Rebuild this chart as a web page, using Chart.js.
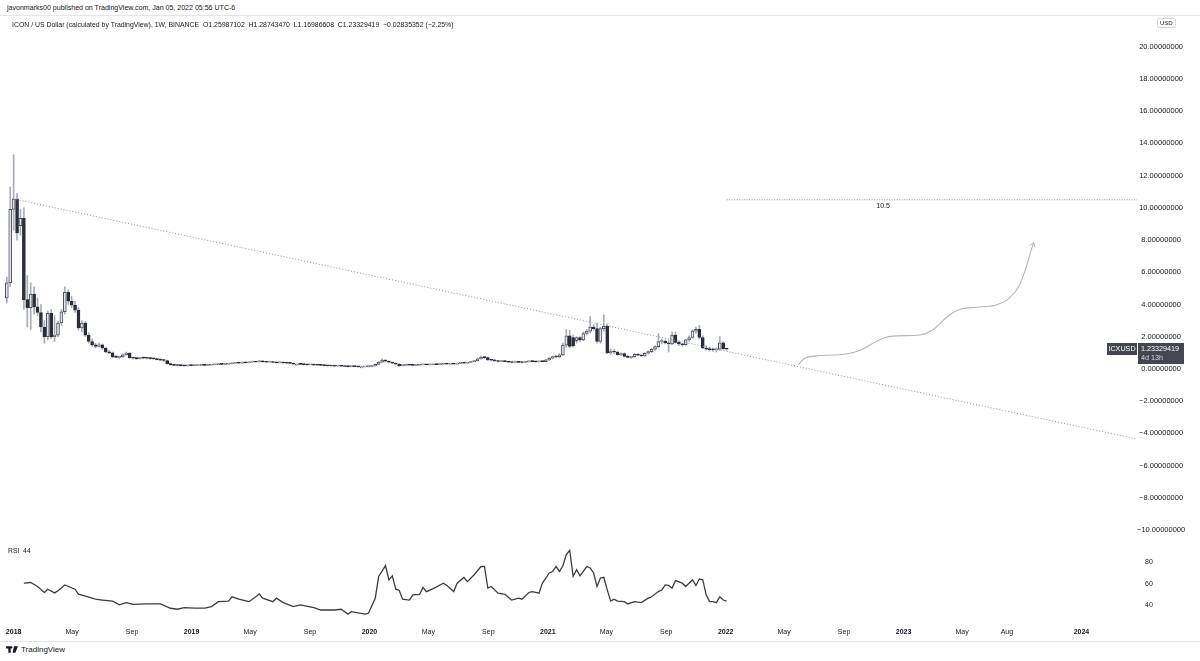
<!DOCTYPE html>
<html>
<head>
<meta charset="utf-8">
<script src="https://cdn.jsdelivr.net/npm/chart.js@4.4.1/dist/chart.umd.min.js"></script>
<style>
  html, body { margin: 0; padding: 0; background: #fff; }
  body { width: 1200px; height: 661px; position: relative; overflow: hidden; font-family: "Liberation Sans", Arial, sans-serif; color: #131722; }
  .pane { position: absolute; left: 0; top: 15px; width: 1200px; height: 627px; box-sizing: border-box; border-top: 1px solid #e3e5ea; border-bottom: 1px solid #e3e5ea; }
  #wrap { position: absolute; left: 0; top: 15px; width: 1200px; height: 626px; }
  .t1 { position: absolute; left: 7px; top: 4px; font-size: 7.05px; white-space: pre; }
  .t2 { position: absolute; left: 12px; top: 21px; font-size: 6.9px; white-space: pre; }
  .usd { position: absolute; left: 1157px; top: 18px; font-size: 6px; padding: 1px 2px; border: 1px solid #d6d8de; border-radius: 2px; }
  .foot { position: absolute; left: 6px; top: 645px; font-size: 8px; color: #131722; display: flex; align-items: center; }
  .foot svg { margin-right: 3px; }
</style>
</head>
<body>
<div class="pane"></div>
<div id="wrap"><canvas id="chart"></canvas></div>
<div class="t1">javonmarks00 published on TradingView.com, Jan 05, 2022 05:56 UTC-6</div>
<div class="t2">ICON / US Dollar (calculated by TradingView), 1W, BINANCE  O1.25987102  H1.28743470  L1.16986608  C1.23329419  −0.02835352 (−2.25%)</div>
<div class="usd">USD</div>
<div class="foot"><svg width="12" height="7" viewBox="0 0 36 20"><path d="M0 0h14v20H7V7H0z M16 0a3.5 3.5 0 1 1 0 7a3.5 3.5 0 1 1 0-7z M24 0h12l-8 20h-8z" fill="#131722"/></svg>TradingView</div>
<script>
// weekly candles, first bar week of 2017-12-18
const firstWeek = '2017-12-18';

const opens = [
  4.4, 5.35, 9.9, 10.55, 8.9, 9.35, 4.3, 3.8, 4.65, 3.85,
  3.5, 2.6, 2.0, 3.45, 2.0, 2.1, 2.85, 3.55, 4.75, 4.2,
  3.95, 3.65, 2.55, 2.85, 2.1, 1.7, 1.5, 1.4, 1.5, 1.3,
  1.05, 1.0, 0.75, 0.72, 0.74, 0.88, 0.98, 0.7, 0.66, 0.64,
  0.68, 0.67, 0.66, 0.64, 0.62, 0.58, 0.55, 0.52, 0.33, 0.25,
  0.22, 0.21, 0.2, 0.19, 0.22, 0.2, 0.21, 0.22, 0.23, 0.22,
  0.24, 0.26, 0.27, 0.29, 0.28, 0.3, 0.32, 0.35, 0.38, 0.36,
  0.4, 0.38, 0.42, 0.45, 0.43, 0.5, 0.44, 0.42, 0.45, 0.4,
  0.38, 0.42, 0.37, 0.35, 0.34, 0.3, 0.3, 0.28, 0.27, 0.25,
  0.26, 0.24, 0.23, 0.22, 0.2, 0.19, 0.18, 0.17, 0.18, 0.17,
  0.15, 0.14, 0.15, 0.14, 0.13, 0.13, 0.14, 0.15, 0.18, 0.28,
  0.42, 0.55, 0.48, 0.42, 0.35, 0.3, 0.2, 0.22, 0.25, 0.24,
  0.22, 0.23, 0.25, 0.27, 0.25, 0.26, 0.28, 0.27, 0.29, 0.31,
  0.3, 0.32, 0.3, 0.34, 0.38, 0.36, 0.4, 0.45, 0.5, 0.62,
  0.72, 0.7, 0.56, 0.55, 0.5, 0.46, 0.48, 0.45, 0.42, 0.4,
  0.42, 0.41, 0.4, 0.44, 0.47, 0.45, 0.44, 0.46, 0.45, 0.56,
  0.66, 0.76, 0.74, 0.87, 1.48, 2.05, 1.95, 1.76, 1.95, 1.8,
  2.2, 2.35, 2.6, 2.5, 1.7, 2.5, 2.65, 1.0, 1.07, 1.05,
  0.88, 0.95, 0.78, 0.72, 0.75, 0.91, 0.86, 0.8, 0.97, 1.07,
  1.22, 1.38, 1.7, 1.72, 1.62, 1.55, 2.1, 1.65, 1.55, 1.5,
  1.8, 1.95, 2.35, 2.45, 1.95, 1.3, 1.22, 1.2, 1.18, 1.22,
  1.62, 1.25987102
];
const highs = [
  5.7, 11.3, 13.3, 10.9, 9.9, 10.0, 5.8, 5.35, 5.1, 4.4,
  4.0, 3.0, 3.6, 3.7, 3.3, 2.95, 3.7, 5.1, 4.9, 4.5,
  4.2, 3.8, 3.0, 2.95, 2.25, 1.85, 1.6, 1.6, 1.55, 1.35,
  1.15, 1.05, 0.85, 0.8, 0.95, 1.05, 1.0, 0.74, 0.7, 0.72,
  0.74, 0.71, 0.7, 0.68, 0.65, 0.62, 0.58, 0.55, 0.36, 0.28,
  0.25, 0.24, 0.23, 0.25, 0.24, 0.23, 0.24, 0.25, 0.25, 0.26,
  0.28, 0.3, 0.31, 0.31, 0.32, 0.35, 0.38, 0.41, 0.4, 0.43,
  0.42, 0.45, 0.48, 0.47, 0.53, 0.51, 0.46, 0.48, 0.47, 0.42,
  0.45, 0.44, 0.39, 0.37, 0.35, 0.32, 0.31, 0.3, 0.29, 0.28,
  0.27, 0.26, 0.25, 0.24, 0.22, 0.21, 0.2, 0.2, 0.19, 0.18,
  0.17, 0.16, 0.16, 0.15, 0.15, 0.16, 0.17, 0.2, 0.31, 0.47,
  0.62, 0.58, 0.5, 0.44, 0.37, 0.32, 0.24, 0.27, 0.27, 0.26,
  0.25, 0.27, 0.29, 0.29, 0.28, 0.3, 0.3, 0.31, 0.33, 0.34,
  0.34, 0.34, 0.36, 0.4, 0.4, 0.42, 0.48, 0.53, 0.68, 0.82,
  0.78, 0.73, 0.6, 0.57, 0.52, 0.5, 0.5, 0.47, 0.44, 0.44,
  0.44, 0.43, 0.46, 0.5, 0.49, 0.47, 0.48, 0.48, 0.6, 0.72,
  0.8, 0.85, 0.95, 1.6, 2.45, 2.4, 2.1, 2.0, 2.0, 2.3,
  2.45, 3.25, 2.75, 2.85, 2.6, 3.35, 2.8, 1.25, 1.2, 1.1,
  1.0, 1.0, 0.85, 0.8, 0.95, 0.95, 0.9, 1.0, 1.12, 1.28,
  1.45, 2.2, 1.85, 1.8, 1.75, 2.3, 2.3, 1.75, 1.6, 1.85,
  2.05, 2.45, 2.6, 2.7, 2.05, 1.45, 1.35, 1.3, 1.3, 2.0,
  1.7, 1.2874347
];
const lows = [
  4.1, 5.1, 8.6, 8.0, 8.3, 3.7, 2.6, 2.45, 3.4, 3.3,
  2.3, 1.6, 1.8, 1.9, 1.7, 2.0, 2.7, 3.4, 4.0, 3.8,
  3.5, 2.4, 2.3, 2.0, 1.6, 1.4, 1.3, 1.35, 1.2, 1.0,
  0.95, 0.7, 0.68, 0.65, 0.7, 0.85, 0.65, 0.6, 0.58, 0.6,
  0.63, 0.62, 0.6, 0.59, 0.56, 0.5, 0.48, 0.3, 0.22, 0.2,
  0.19, 0.18, 0.17, 0.18, 0.18, 0.19, 0.2, 0.21, 0.2, 0.21,
  0.23, 0.25, 0.26, 0.26, 0.27, 0.29, 0.31, 0.34, 0.34, 0.35,
  0.36, 0.37, 0.41, 0.41, 0.42, 0.42, 0.4, 0.41, 0.38, 0.36,
  0.37, 0.35, 0.33, 0.32, 0.28, 0.28, 0.26, 0.25, 0.24, 0.24,
  0.23, 0.22, 0.21, 0.19, 0.18, 0.17, 0.16, 0.16, 0.16, 0.14,
  0.13, 0.13, 0.13, 0.12, 0.12, 0.12, 0.13, 0.14, 0.17, 0.26,
  0.4, 0.45, 0.4, 0.33, 0.28, 0.16, 0.19, 0.21, 0.22, 0.21,
  0.21, 0.22, 0.24, 0.24, 0.24, 0.25, 0.26, 0.26, 0.28, 0.28,
  0.29, 0.29, 0.29, 0.33, 0.34, 0.35, 0.39, 0.44, 0.49, 0.6,
  0.64, 0.53, 0.5, 0.48, 0.44, 0.45, 0.43, 0.4, 0.38, 0.39,
  0.39, 0.38, 0.39, 0.43, 0.43, 0.42, 0.43, 0.43, 0.44, 0.52,
  0.62, 0.68, 0.7, 0.82, 1.35, 1.3, 1.35, 1.6, 1.7, 1.75,
  2.1, 2.25, 2.4, 1.6, 1.6, 2.35, 0.95, 0.9, 0.95, 0.85,
  0.82, 0.75, 0.68, 0.65, 0.72, 0.82, 0.76, 0.78, 0.93, 1.02,
  1.15, 1.3, 1.55, 1.55, 1.05, 1.5, 1.6, 1.45, 1.4, 1.45,
  1.7, 1.9, 2.2, 1.85, 1.25, 1.15, 1.1, 1.08, 1.05, 1.15,
  1.2, 1.16986608
];
const closes = [
  5.35, 9.9, 10.55, 8.45, 9.35, 4.3, 3.8, 4.65, 3.85, 3.5,
  2.6, 2.0, 3.45, 2.0, 2.1, 2.85, 3.55, 4.75, 4.2, 3.95,
  3.65, 2.55, 2.85, 2.1, 1.7, 1.5, 1.4, 1.5, 1.3, 1.05,
  1.0, 0.75, 0.72, 0.74, 0.88, 0.98, 0.7, 0.66, 0.64, 0.68,
  0.67, 0.66, 0.64, 0.62, 0.58, 0.55, 0.52, 0.33, 0.25, 0.22,
  0.21, 0.2, 0.19, 0.22, 0.2, 0.21, 0.22, 0.23, 0.22, 0.24,
  0.26, 0.27, 0.29, 0.28, 0.3, 0.32, 0.35, 0.38, 0.36, 0.4,
  0.38, 0.42, 0.45, 0.43, 0.5, 0.44, 0.42, 0.45, 0.4, 0.38,
  0.42, 0.37, 0.35, 0.34, 0.3, 0.3, 0.28, 0.27, 0.25, 0.26,
  0.24, 0.23, 0.22, 0.2, 0.19, 0.18, 0.17, 0.18, 0.17, 0.15,
  0.14, 0.15, 0.14, 0.13, 0.13, 0.14, 0.15, 0.18, 0.28, 0.42,
  0.55, 0.48, 0.42, 0.35, 0.3, 0.2, 0.22, 0.25, 0.24, 0.22,
  0.23, 0.25, 0.27, 0.25, 0.26, 0.28, 0.27, 0.29, 0.31, 0.3,
  0.32, 0.3, 0.34, 0.38, 0.36, 0.4, 0.45, 0.5, 0.62, 0.72,
  0.7, 0.56, 0.55, 0.5, 0.46, 0.48, 0.45, 0.42, 0.4, 0.42,
  0.41, 0.4, 0.44, 0.47, 0.45, 0.44, 0.46, 0.45, 0.56, 0.66,
  0.76, 0.74, 0.87, 1.48, 2.05, 1.4, 1.42, 1.95, 1.8, 2.2,
  2.35, 2.6, 2.5, 1.7, 2.5, 2.65, 1.0, 1.07, 1.05, 0.88,
  0.95, 0.78, 0.72, 0.75, 0.91, 0.86, 0.8, 0.97, 1.07, 1.22,
  1.38, 1.7, 1.72, 1.62, 1.55, 2.1, 1.65, 1.55, 1.5, 1.8,
  1.95, 2.35, 2.45, 1.95, 1.3, 1.22, 1.2, 1.18, 1.22, 1.62,
  1.26, 1.23329419
];

// RSI turning points: week index -> value
const rsiWeeks = [
  5, 7, 9, 11, 12, 14, 15, 17, 20, 21, 24, 26, 28, 31, 33, 35, 37, 41, 45, 48,
  50, 52, 55, 58, 60, 62, 65, 66, 68, 71, 73, 74, 75, 78, 79, 81, 84, 86, 90, 92,
  96, 98, 100, 101, 105, 106, 108, 109, 111, 112, 113, 114, 115, 116, 118, 119, 121, 122, 123, 125,
  128, 129, 131, 132, 134, 135, 137, 139, 140, 141, 142, 144, 146, 148, 150, 151, 153, 154, 156, 157,
  159, 160, 161, 162, 163, 164, 165, 166, 167, 168, 170, 171, 172, 173, 174, 175, 176, 177, 178, 179,
  181, 182, 184, 186, 188, 189, 191, 192, 193, 194, 195, 196, 198, 199, 201, 202, 203, 204, 205, 206,
  207, 208, 209, 210, 211
];
const rsiValues = [
  60.6, 61.2, 57.5, 52, 55, 51.6, 53.5, 59, 55, 50.4, 47.6, 45.8, 45, 44, 40.5, 42.6, 41, 41.5, 41.5, 37.4,
  36.5, 38, 37.5, 37.5, 39, 43.5, 44, 48, 45.8, 43.5, 48, 50.7, 46.7, 43.5, 46.7, 42.6, 39, 40.5, 38, 35.8,
  35.8, 36.5, 32, 34.2, 32, 32.8, 46.7, 66.8, 76.7, 63.7, 67.4, 55, 54, 45.8, 45, 49.8, 50.3, 56.6, 52.8, 55.5,
  60.6, 58.5, 52.8, 60.6, 65.8, 62, 68.4, 76, 76, 56, 57.5, 51.3, 50.3, 45, 46.7, 45.8, 52, 52.8, 51.3, 60.6,
  70, 71.4, 76, 71.4, 76.7, 87, 91, 66.8, 73, 67.4, 76, 74.6, 70, 57.5, 65.3, 66, 54.4, 44, 45.8, 44,
  43.5, 41.4, 43.5, 42.6, 46.7, 48, 52.8, 54.3, 59, 58.5, 56, 63, 60.6, 57.5, 63.7, 58.5, 64.4, 63.7, 49.8, 43.5,
  43.5, 42.6, 48, 45, 44
];

// drawings
const trendDates = ['2018-01-01', '2024-04-24'];
const trendPrices = [10.55, -4.35];
const levelDates = ['2022-01-03', '2024-04-24'];
const levelPrices = [10.5, 10.5];
const levelLabel = '10.5';
const levelLabelDate = '2022-11-20';
const pathDates = ['2022-05-30', '2022-06-12', '2022-07-06', '2022-09-05', '2022-10-03', '2022-11-20', '2022-12-17',
  '2023-02-03', '2023-03-02', '2023-04-05', '2023-04-29', '2023-05-30', '2023-07-10', '2023-08-06', '2023-08-27',
  '2023-09-10', '2023-09-20', '2023-09-25'];
const pathPrices = [0.25, 0.66, 0.81, 0.93, 1.14, 1.91, 2.05, 2.11, 2.42, 3.35, 3.72, 3.83, 3.97, 4.39, 5.21,
  6.35, 7.39, 7.84];

// axes
const xRange = ['2017-12-04', '2024-04-24'];
const xTickDates = ['2018-01-01', '2018-05-01', '2018-09-01', '2019-01-01', '2019-05-01', '2019-09-01',
  '2020-01-01', '2020-05-01', '2020-09-01', '2021-01-01', '2021-05-01', '2021-09-01', '2022-01-01',
  '2022-05-01', '2022-09-01', '2023-01-01', '2023-05-01', '2023-08-01', '2024-01-01'];
const xTickLabels = ['2018', 'May', 'Sep', '2019', 'May', 'Sep', '2020', 'May', 'Sep', '2021', 'May', 'Sep',
  '2022', 'May', 'Sep', '2023', 'May', 'Aug', '2024'];
const priceTicks = [-10, -8, -6, -4, -2, 0, 2, 4, 6, 8, 10, 12, 14, 16, 18, 20];
const priceRange = [-10.62, 21.97];
const rsiTicks = [40, 60, 80];
const rsiRange = [24.7, 100.5];
const symbol = 'ICXUSD';
const countdown = '4d 13h';
const rsiTitle = 'RSI  44';

const FONT = '"Liberation Sans", Arial, sans-serif';
const DAY = 86400000;
const t0 = Date.parse(firstWeek);
const weekTime = i => t0 + i * 7 * DAY;

const up = i => closes[i] >= opens[i];

const overlay = {
  id: 'overlay',
  afterDatasetsDraw(chart) {
    const { ctx } = chart;
    const { x, price, rsi } = chart.scales;
    ctx.save();

    // level label
    ctx.font = '7px ' + FONT;
    ctx.fillStyle = '#131722';
    ctx.textAlign = 'center';
    ctx.textBaseline = 'top';
    ctx.fillText(levelLabel, x.getPixelForValue(Date.parse(levelLabelDate)), price.getPixelForValue(levelPrices[0]) + 3);

    // arrow head on projection path
    const pts = chart.getDatasetMeta(5).data;
    const tip = pts[pts.length - 1], prev = pts[pts.length - 2];
    const ang = Math.atan2(tip.y - prev.y, tip.x - prev.x);
    ctx.strokeStyle = '#b2b5be';
    ctx.lineWidth = 1;
    ctx.beginPath();
    ctx.moveTo(tip.x - 5 * Math.cos(ang - 0.6), tip.y - 5 * Math.sin(ang - 0.6));
    ctx.lineTo(tip.x, tip.y);
    ctx.lineTo(tip.x - 5 * Math.cos(ang + 0.6), tip.y - 5 * Math.sin(ang + 0.6));
    ctx.stroke();

    // RSI pane title
    ctx.textAlign = 'left';
    ctx.font = '6.8px ' + FONT;
    ctx.fillText(rsiTitle, 8, rsi.top + 8);

    ctx.restore();
  },
  afterDraw(chart) {
    const { ctx, chartArea } = chart;
    const price = chart.scales.price;
    const last = closes.length - 1;
    const y = Math.round(price.getPixelForValue(closes[last]));
    const r = chartArea.right;
    ctx.save();
    ctx.fillStyle = '#434651';
    ctx.fillRect(r - 30, y - 6, 30, 12);
    ctx.fillRect(r + 1, y - 6, 46, 21);
    ctx.fillStyle = '#ffffff';
    ctx.font = '7.2px ' + FONT;
    ctx.textBaseline = 'middle';
    ctx.textAlign = 'center';
    ctx.fillText(symbol, r - 15, y);
    ctx.textAlign = 'left';
    ctx.fillText(closes[last].toFixed(8), r + 4, y);
    ctx.fillStyle = '#d1d4dc';
    ctx.fillText(countdown, r + 4, y + 9);
    ctx.restore();
  }
};

const fitY = s => { s.width = 63; s.paddingTop = 0; s.paddingBottom = 0; };

new Chart(document.getElementById('chart'), {
  type: 'bar',
  data: {
    datasets: [
      {
        label: 'body',
        data: closes.map((c, i) => ({ x: weekTime(i), y: [opens[i], c] })),
        yAxisID: 'price',
        grouped: false,
        barThickness: 3,
        minBarLength: 1,
        borderWidth: 1,
        borderSkipped: false,
        backgroundColor: ctx => up(ctx.dataIndex) ? '#e0e3eb' : '#2a2e39',
        borderColor: ctx => up(ctx.dataIndex) ? '#50535e' : '#2a2e39',
        order: 1
      },
      {
        label: 'wick',
        data: highs.map((h, i) => ({ x: weekTime(i), y: [lows[i], h] })),
        yAxisID: 'price',
        grouped: false,
        barThickness: 1,
        backgroundColor: '#a9acb5',
        order: 2
      },
      {
        type: 'line',
        label: 'RSI',
        data: rsiWeeks.map((w, k) => ({ x: weekTime(w), y: rsiValues[k] })),
        yAxisID: 'rsi',
        borderColor: '#3a3d47',
        borderWidth: 1.3,
        pointRadius: 0,
        tension: 0,
        order: 0
      },
      {
        type: 'line',
        label: 'trend',
        data: trendDates.map((d, k) => ({ x: Date.parse(d), y: trendPrices[k] })),
        yAxisID: 'price',
        borderColor: '#8d9099',
        borderWidth: 1,
        borderDash: [1, 2],
        pointRadius: 0,
        order: 0
      },
      {
        type: 'line',
        label: 'level',
        data: levelDates.map((d, k) => ({ x: Date.parse(d), y: levelPrices[k] })),
        yAxisID: 'price',
        borderColor: '#8d9099',
        borderWidth: 1,
        borderDash: [1, 1.5],
        pointRadius: 0,
        order: 0
      },
      {
        type: 'line',
        label: 'path',
        data: pathDates.map((d, k) => ({ x: Date.parse(d), y: pathPrices[k] })),
        yAxisID: 'price',
        borderColor: '#b2b5be',
        borderWidth: 1.1,
        pointRadius: 0,
        cubicInterpolationMode: 'monotone',
        order: 0
      }
    ]
  },
  options: {
    responsive: true,
    maintainAspectRatio: false,
    animation: false,
    events: [],
    layout: { padding: 0 },
    plugins: { legend: { display: false }, tooltip: { enabled: false } },
    scales: {
      x: {
        type: 'linear',
        offset: false,
        min: Date.parse(xRange[0]),
        max: Date.parse(xRange[1]),
        grid: { display: false, drawTicks: false },
        border: { display: false },
        afterBuildTicks: s => { s.ticks = xTickDates.map(d => ({ value: Date.parse(d) })); },
        afterFit: s => { s.height = 19; s.paddingLeft = 0; s.paddingRight = 0; },
        ticks: {
          autoSkip: false,
          maxRotation: 0,
          padding: 6,
          color: '#131722',
          font: ctx => ({ family: FONT, size: 7, weight: /^\d{4}$/.test(xTickLabels[ctx.index]) ? 'bold' : 'normal' }),
          callback: (v, i) => xTickLabels[i]
        }
      },
      price: {
        type: 'linear',
        position: 'right',
        stack: 'panes',
        stackWeight: 525,
        min: priceRange[0],
        max: priceRange[1],
        grid: { display: false, drawTicks: false },
        border: { display: false },
        afterBuildTicks: s => { s.ticks = priceTicks.map(v => ({ value: v })); },
        afterFit: fitY,
        ticks: {
          padding: 0,
          crossAlign: 'center',
          color: '#131722',
          font: { family: FONT, size: 7.5 },
          callback: v => (v < 0 ? '\u2212' : '') + Math.abs(v).toFixed(8)
        }
      },
      rsi: {
        type: 'linear',
        position: 'right',
        stack: 'panes',
        stackWeight: 82,
        min: rsiRange[0],
        max: rsiRange[1],
        grid: { display: false, drawTicks: false },
        border: { display: false },
        afterBuildTicks: s => { s.ticks = rsiTicks.map(v => ({ value: v })); },
        afterFit: fitY,
        ticks: {
          padding: 8,
          crossAlign: 'near',
          color: '#131722',
          font: { family: FONT, size: 7 },
          callback: v => String(v)
        }
      }
    }
  },
  plugins: [overlay]
});
</script>
</body>
</html>
